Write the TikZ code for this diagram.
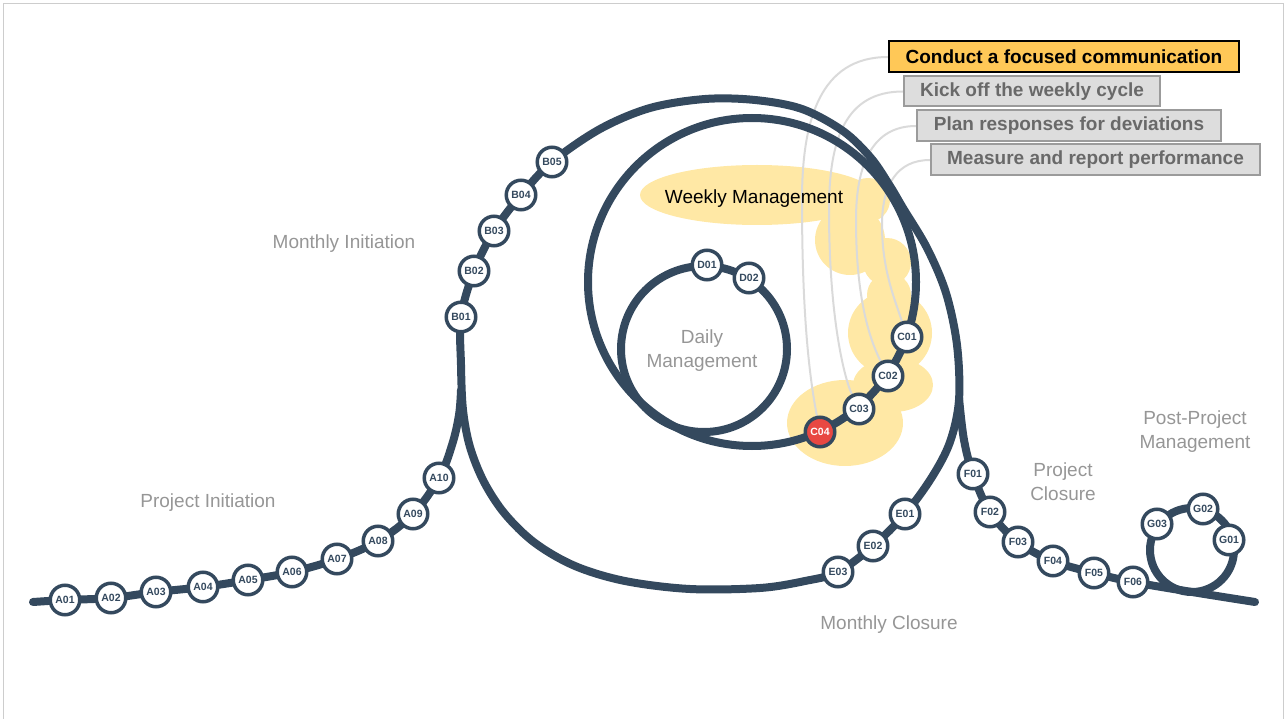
\documentclass[tikz,border=0pt]{standalone}
\usepackage{fontspec}
\setmainfont{Liberation Sans}
\definecolor{track}{RGB}{52,73,94}
\definecolor{hlc}{RGB}{255,232,165}
\definecolor{orng}{RGB}{255,200,87}
\definecolor{gbox}{RGB}{221,221,221}
\definecolor{gboxline}{RGB}{155,155,155}
\definecolor{gtext}{RGB}{105,105,105}
\definecolor{lblc}{RGB}{150,150,150}
\definecolor{connc}{RGB}{218,218,218}
\definecolor{redc}{RGB}{232,72,66}
\definecolor{framec}{RGB}{205,205,205}
\pgfdeclarelayer{hl}\pgfdeclarelayer{cn}\pgfdeclarelayer{tr}
\pgfsetlayers{hl,cn,tr,main}
\tikzset{
 stn/.style={circle,draw=track,line width=3.5pt,fill=white,minimum size=29.5pt,inner sep=0pt,text=track,font=\fontsize{10.5}{12}\selectfont\bfseries},
 redstn/.style={stn,fill=redc,text=white},
 trk/.style={draw=track,line width=8pt,line cap=round,line join=round},
 lbl/.style={text=lblc,font=\fontsize{19}{24}\selectfont,align=center},
 boxo/.style={draw=black,line width=2pt,fill=orng,text=black,font=\fontsize{19}{22}\selectfont\bfseries,inner sep=0pt},
 boxg/.style={draw=gboxline,line width=2pt,fill=gbox,text=gtext,font=\fontsize{19}{22}\selectfont\bfseries,inner sep=0pt},
 conn/.style={draw=connc,line width=2pt},
 hlf/.style={fill=hlc}
}
\begin{document}
\begin{tikzpicture}[x=1pt,y=-1pt]
\useasboundingbox (0,0) rectangle (1287,719);
\draw[framec,line width=1pt] (3.5,730) -- (3.5,3.5) -- (1283.5,3.5) -- (1283.5,730);

% boxes
\node[boxg,minimum width=329,minimum height=31] (k4) at (1095.5,160) {Measure and report performance};
\node[boxg,minimum width=304,minimum height=31] (k3) at (1069,126) {Plan responses for deviations};
\node[boxg,minimum width=256,minimum height=30] (k2) at (1032,91.5) {Kick off the weekly cycle};
\node[boxo,minimum width=350,minimum height=31] (k1) at (1064,57) {Conduct a focused communication};

% labels
\node[lbl] (mi) at (344,243.5) {Monthly Initiation};
\node[lbl] (pi) at (208,502.5) {Project Initiation};
\node[lbl] (dm) at (702,350.5) {Daily\\Management};
\node[lbl] (pc) at (1063,481.5) {Project\\Closure};
\node[lbl] (ppm) at (1195,431.5) {Post-Project\\Management};
\node[lbl] (mc) at (889,624.5) {Monthly Closure};
\node[font=\fontsize{19}{22}\selectfont,text=black] (wm) at (754,199) {Weekly Management};

% stations
\node[stn] (A01) at (65,600) {A01};
\node[stn] (A02) at (111,598) {A02};
\node[stn] (A03) at (156,592) {A03};
\node[stn] (A04) at (203,587) {A04};
\node[stn] (A05) at (248,580) {A05};
\node[stn] (A06) at (292,572) {A06};
\node[stn] (A07) at (337,559) {A07};
\node[stn] (A08) at (378,541) {A08};
\node[stn] (A09) at (413,514) {A09};
\node[stn] (A10) at (439,478) {A10};
\node[stn] (B01) at (461,317) {B01};
\node[stn] (B02) at (474,271) {B02};
\node[stn] (B03) at (494,231) {B03};
\node[stn] (B04) at (521,195) {B04};
\node[stn] (B05) at (552,162) {B05};
\node[stn] (C01) at (907,337) {C01};
\node[stn] (C02) at (888,376) {C02};
\node[stn] (C03) at (859,409) {C03};
\node[redstn] (C04) at (820,432) {C04};
\node[stn] (D01) at (707,265) {D01};
\node[stn] (D02) at (749,278) {D02};
\node[stn] (E01) at (905,514) {E01};
\node[stn] (E02) at (873,546) {E02};
\node[stn] (E03) at (838,572) {E03};
\node[stn] (F01) at (973,474) {F01};
\node[stn] (F02) at (990,512) {F02};
\node[stn] (F03) at (1018,542) {F03};
\node[stn] (F04) at (1053,561) {F04};
\node[stn] (F05) at (1094,573) {F05};
\node[stn] (F06) at (1133,582) {F06};
\node[stn] (G01) at (1229,540) {G01};
\node[stn] (G02) at (1203,509) {G02};
\node[stn] (G03) at (1157,524) {G03};

\begin{pgfonlayer}{hl}
\fill[hlf] (757,195) ellipse [x radius=117, y radius=30];
\fill[hlf] (868,200) circle [radius=22];
\fill[hlf] (850,240) circle [radius=35];
\fill[hlf] (887,262) circle [radius=24];
\fill[hlf] (889,295) circle [radius=22];
\fill[hlf] (890,333) circle [radius=42];
\fill[hlf] (893,385) ellipse [x radius=40, y radius=27];
\fill[hlf] (845,423) ellipse [x radius=58, y radius=43];
\end{pgfonlayer}

\begin{pgfonlayer}{cn}
\draw[conn] (k1.west) .. controls (820,57) and (802,120) .. (802,200) .. controls (802,320) and (810,380) .. (C04);
\draw[conn] (k2.west) .. controls (845,91.5) and (829,140) .. (829,210) .. controls (829,320) and (845,380) .. (C03);
\draw[conn] (k3.west) .. controls (872,126) and (856,165) .. (856,220) .. controls (856,300) and (870,340) .. (C02);
\draw[conn] (k4.west) .. controls (897,160) and (882,185) .. (882,225) .. controls (882,270) and (895,300) .. (C01);
\end{pgfonlayer}

\begin{pgfonlayer}{tr}
% project initiation line
\draw[trk] plot[smooth,tension=0.6] coordinates {(33,602) (65,600) (111,598) (156,592) (203,587) (248,580) (292,572) (337,559) (378,541) (413,514) (439,478) (452,445) (459,415) (461,390)};
% monthly loop
\draw[trk] plot[smooth cycle,tension=0.55] coordinates {(461,365) (461,317) (474,271) (494,231) (521,195) (552,162) (600,129) (650,108) (705,99) (755,100) (802,109) (843,131) (871,158) (890,186) (903,208) (927,248) (946,293) (957,345) (959,400) (950,442) (932,477) (905,514) (873,546) (838,572) (805,581) (760,588) (690,589) (625,581) (575,566) (535,543) (505,514) (484,482) (470,447) (463,410)};
% weekly
\draw[trk] (752,282) circle [radius=164];
% daily
\draw[trk] (704,349) circle [radius=83];
% project closure line
\draw[trk] plot[smooth,tension=0.6] coordinates {(959,398) (964,440) (973,474) (990,512) (1018,542) (1053,561) (1094,573) (1133,582) (1192,592) (1255,602)};
% post-project loop
\draw[trk] (1192,550) circle [radius=42];
\end{pgfonlayer}
\end{tikzpicture}
\end{document}
